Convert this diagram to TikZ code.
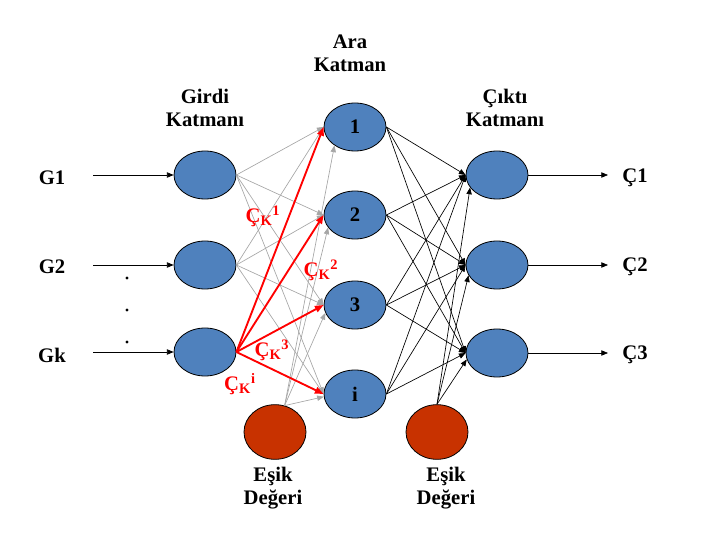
\documentclass[tikz,border=0pt]{standalone}
\usepackage{fontspec}
\setmainfont{Liberation Serif}
\usetikzlibrary{shapes.geometric,arrows.meta}
\definecolor{nodeblue}{HTML}{4F81BD}
\definecolor{biasred}{HTML}{C83200}
\definecolor{linkgray}{HTML}{A6A6A6}
\begin{document}
\begin{tikzpicture}[x=0.75pt,y=-0.75pt,
  neuron/.style={ellipse,draw=black,line width=0.6pt,fill=nodeblue,minimum width=46.5pt,minimum height=36pt,inner sep=0pt,font=\fontsize{15.5}{17}\selectfont\bfseries},
  biasnode/.style={ellipse,draw=black,line width=0.6pt,fill=biasred,minimum width=46.5pt,minimum height=41pt,inner sep=0pt},
  lbl/.style={font=\fontsize{15.5}{17.5}\selectfont\bfseries,align=center,inner sep=0pt},
  rlbl/.style={text=red,font=\fontsize{15.5}{17}\selectfont\bfseries,inner sep=0pt},
  tipsmall/.style={-{Triangle[length=5pt,width=4pt]}},
  graylink/.style={tipsmall,draw=linkgray,line width=0.5pt},
  redlink/.style={-{Triangle[length=6.5pt,width=5pt]},draw=red,line width=1.4pt},
  blacklink/.style={tipsmall,draw=black,line width=0.5pt}
]
\useasboundingbox (0,0) rectangle (725,552);

% layer titles
\node[lbl] (tara) at (350,53) {Ara\\Katman};
\node[lbl] (tgirdi) at (205,108) {Girdi\\Katmanı};
\node[lbl] (tcikti) at (505,108) {Çıktı\\Katmanı};
\node[lbl] (tesik1) at (273,488) {Eşik\\Değeri};
\node[lbl] (tesik2) at (446,488) {Eşik\\Değeri};

% input labels
\node[lbl] (g1) at (52,178) {G1};
\node[lbl] (g2) at (52,267) {G2};
\node[lbl] (gk) at (52,355) {Gk};
\coordinate (s1) at (93,175);
\coordinate (s2) at (93,265);
\coordinate (s3) at (93,352);

% output labels
\node[lbl] (c1) at (635,178) {Ç1};
\node[lbl] (c2) at (635,267) {Ç2};
\node[lbl] (c3) at (635,355) {Ç3};
\coordinate (e1) at (608,175);
\coordinate (e2) at (608,265);
\coordinate (e3) at (608,353);

% neurons
\node[neuron] (i1) at (205,175) {};
\node[neuron] (i2) at (205,265) {};
\node[neuron] (i3) at (205,352) {};
\node[neuron] (h1) at (355,127) {1};
\node[neuron] (h2) at (355,215) {2};
\node[neuron] (h3) at (355,305) {3};
\node[neuron] (h4) at (355,394) {i};
\node[neuron] (o1) at (497,175) {};
\node[neuron] (o2) at (497,265) {};
\node[neuron] (o3) at (497,353) {};
\node[biasnode] (b1) at (275,432) {};
\node[biasnode] (b2) at (437,432) {};

% ellipsis dots between inputs
\foreach \y in {278,310,342} \fill (127,\y) circle (1.6);

% input and output arrows
\foreach \s/\n in {s1/i1,s2/i2,s3/i3} \draw[blacklink] (\s) -- (\n.west);
\foreach \n/\e in {o1/e1,o2/e2,o3/e3} \draw[blacklink] (\n.east) -- (\e);

% input layer to hidden layer
\foreach \a in {i1,i2} \foreach \h in {h1,h2,h3,h4} \draw[graylink] (\a.east) -- (\h.west);
\foreach \h/\ang in {h1/222,h2/205,h3/195,h4/185} \draw[graylink] (b1.70) -- (\h.\ang);
\foreach \h in {h1,h2,h3,h4} \draw[redlink] (i3.east) -- (\h.west);

% hidden layer to output layer
\foreach \h in {h1,h2,h3,h4} \foreach \o in {o1,o2,o3} \draw[blacklink] (\h.east) -- (\o.west);
\foreach \o/\ang in {o1/205,o2/200,o3/192} \draw[blacklink] (b2.north) -- (\o.\ang);

% weight labels
\node[rlbl] (w1) at (263,216) {Ç\textsubscript{K}\textsuperscript{1}};
\node[rlbl] (w2) at (321,270) {Ç\textsubscript{K}\textsuperscript{2}};
\node[rlbl] (w3) at (272,350) {Ç\textsubscript{K}\textsuperscript{3}};
\node[rlbl] (wi) at (240,384) {Ç\textsubscript{K}\textsuperscript{i}};
\end{tikzpicture}
\end{document}
